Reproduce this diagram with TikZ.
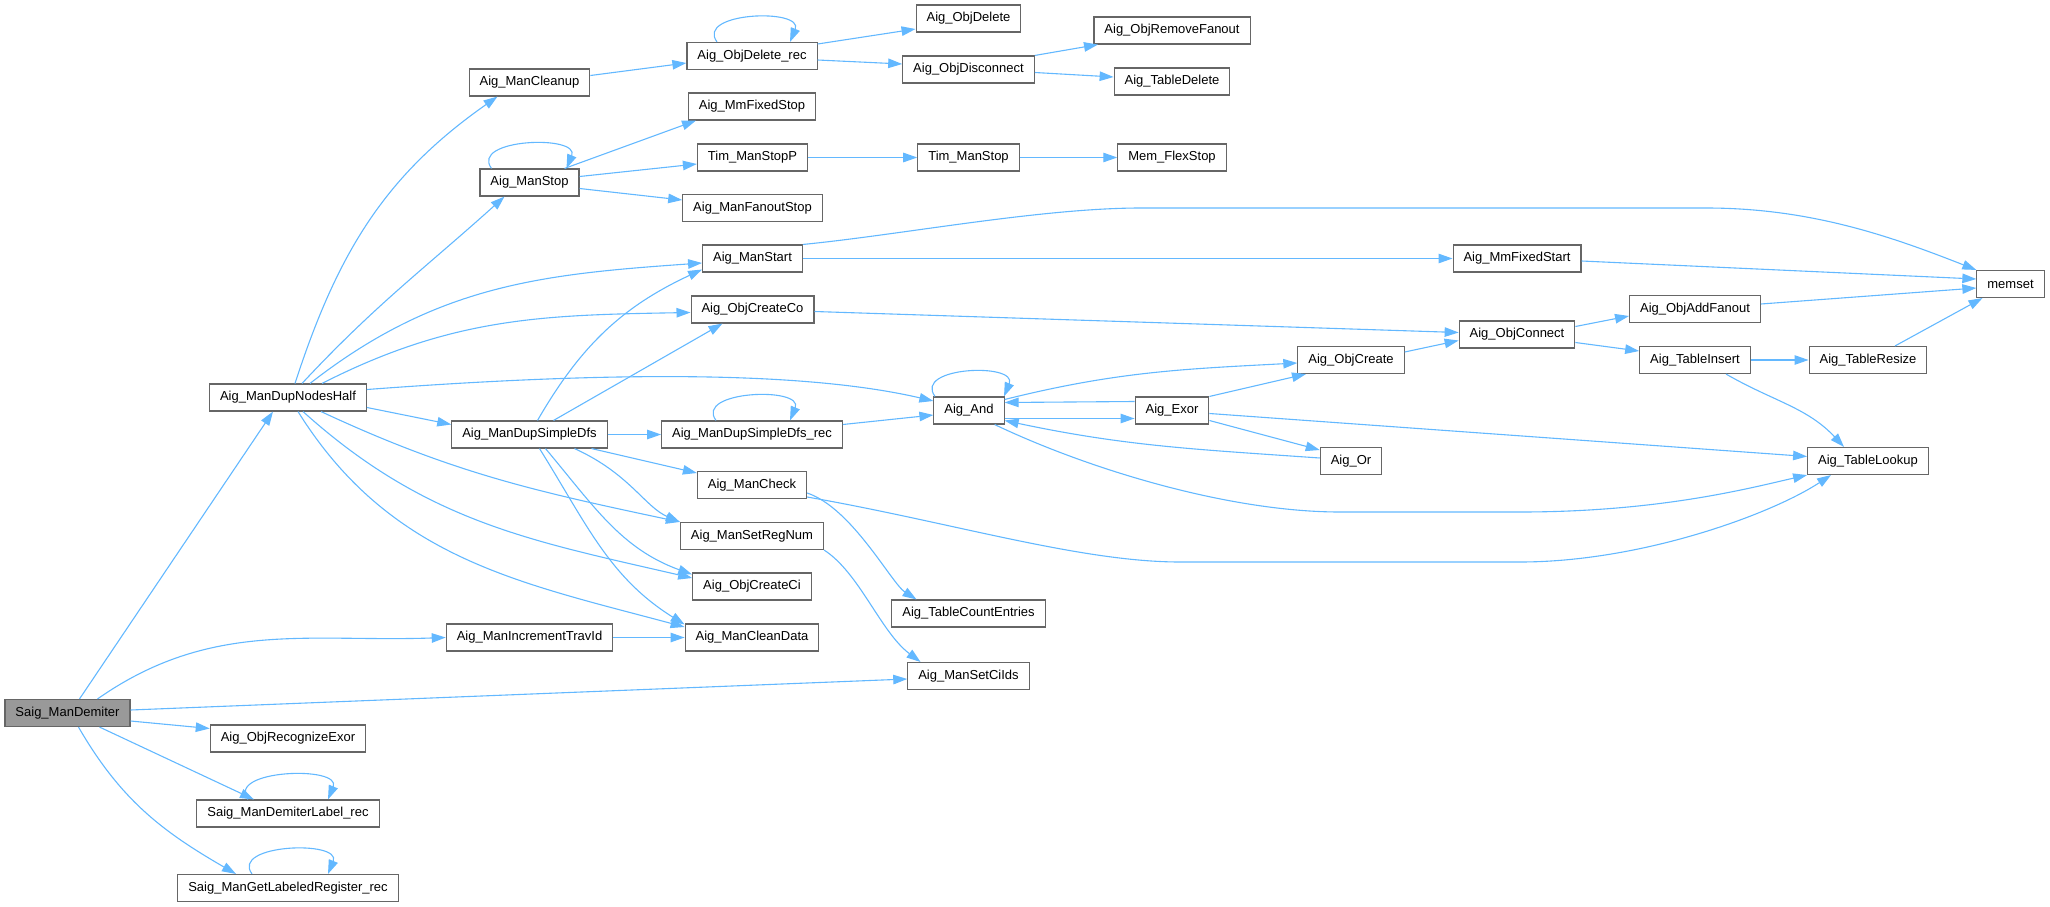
\documentclass[tikz,border=0pt]{standalone}
\usepackage{fontspec}
\setmainfont{Liberation Sans}
\usetikzlibrary{arrows.meta}
\definecolor{edgeblue}{HTML}{63B8FF}
\definecolor{nodeborder}{HTML}{666666}
\definecolor{rootfill}{HTML}{999999}
\begin{document}
\begin{tikzpicture}[x=1pt,y=1pt,
  fn/.style={draw=nodeborder, line width=1.1pt, fill=white, minimum height=27pt,
    inner xsep=10.5pt, inner ysep=0pt, font=\fontsize{13}{15}\selectfont},
  root/.style={fn, fill=rootfill},
  e/.style={draw=edgeblue, line width=1.1pt, -{Triangle[length=14pt,width=9.5pt]}}]
\useasboundingbox (0,0) rectangle (2050,-907);
% nodes
\node[root] (SMD) at (67.5,-713) {Saig\_ManDemiter};
\node[fn] (DNH) at (288,-397.5) {Aig\_ManDupNodesHalf};
\node[fn] (ORE) at (288,-738.5) {Aig\_ObjRecognizeExor};
\node[fn] (DLR) at (288,-813.5) {Saig\_ManDemiterLabel\_rec};
\node[fn] (GLR) at (288,-888) {Saig\_ManGetLabeledRegister\_rec};
\node[fn] (CLN) at (529.5,-82.5) {Aig\_ManCleanup};
\node[fn] (MST) at (529.5,-182.5) {Aig\_ManStop};
\node[fn] (DSD) at (529.5,-434.5) {Aig\_ManDupSimpleDfs};
\node[fn] (ITI) at (529.5,-637.5) {Aig\_ManIncrementTravId};
\node[fn] (ODR) at (752,-56) {Aig\_ObjDelete\_rec};
\node[fn] (MFS) at (752,-106.5) {Aig\_MmFixedStop};
\node[fn] (TSP) at (752.5,-157.5) {Tim\_ManStopP};
\node[fn] (MFO) at (752.5,-208) {Aig\_ManFanoutStop};
\node[fn] (MSA) at (752.5,-258.5) {Aig\_ManStart};
\node[fn] (OCC) at (752.5,-309.5) {Aig\_ObjCreateCo};
\node[fn] (DSR) at (752,-434.5) {Aig\_ManDupSimpleDfs\_rec};
\node[fn] (MCK) at (752,-485) {Aig\_ManCheck};
\node[fn] (SRN) at (752,-536) {Aig\_ManSetRegNum};
\node[fn] (OCI) at (752,-586.5) {Aig\_ObjCreateCi};
\node[fn] (MCD) at (752,-637.5) {Aig\_ManCleanData};
\node[fn] (ODL) at (968.5,-18.5) {Aig\_ObjDelete};
\node[fn] (ODC) at (968.5,-69.5) {Aig\_ObjDisconnect};
\node[fn] (TMS) at (968.5,-157.5) {Tim\_ManStop};
\node[fn] (AND) at (969,-410.5) {Aig\_And};
\node[fn] (TCE) at (968.5,-613.5) {Aig\_TableCountEntries};
\node[fn] (SCI) at (968.5,-676) {Aig\_ManSetCiIds};
\node[fn] (ORF) at (1172,-30.5) {Aig\_ObjRemoveFanout};
\node[fn] (TDL) at (1172,-81.5) {Aig\_TableDelete};
\node[fn] (MFL) at (1172,-157.5) {Mem\_FlexStop};
\node[fn] (EXR) at (1172,-410.5) {Aig\_Exor};
\node[fn] (OCR) at (1351,-360) {Aig\_ObjCreate};
\node[fn] (OR) at (1351,-461) {Aig\_Or};
\node[fn] (MFT) at (1517,-258.5) {Aig\_MmFixedStart};
\node[fn] (OCN) at (1517,-334.5) {Aig\_ObjConnect};
\node[fn] (OAF) at (1695,-309) {Aig\_ObjAddFanout};
\node[fn] (TIN) at (1695,-360) {Aig\_TableInsert};
\node[fn] (TRS) at (1868,-360) {Aig\_TableResize};
\node[fn] (TLK) at (1868,-461) {Aig\_TableLookup};
\node[fn] (MEM) at (2010.5,-284) {memset};
% edges from Saig_ManDemiter
\draw[e] ([xshift=12pt]SMD.north) -- ([xshift=-15pt]DNH.south);
\draw[e] ([xshift=30pt]SMD.north) to[out=35,in=182] (ITI.west);
\draw[e] ([yshift=3pt]SMD.east) -- ([yshift=-3pt]SCI.west);
\draw[e] ([yshift=-8pt]SMD.east) -- ([yshift=10pt]ORE.west);
\draw[e] ([xshift=32pt]SMD.south) -- ([xshift=-34pt]DLR.north);
\draw[e] ([xshift=11pt]SMD.south) to[out=-60,in=150] ([xshift=-52pt]GLR.north);
\draw[e] ([xshift=-40pt]DLR.north) .. controls +(-22,30) and +(14,34) .. ([xshift=40pt]DLR.north);
\draw[e] ([xshift=-36pt]GLR.north) .. controls +(-22,30) and +(14,34) .. ([xshift=40pt]GLR.north);
% edges from Aig_ManDupNodesHalf
\draw[e] ([xshift=7pt]DNH.north) to[out=72,in=215] ([xshift=-32pt]CLN.south);
\draw[e] ([xshift=14pt]DNH.north) to[out=47,in=222] ([xshift=-25pt]MST.south);
\draw[e] ([xshift=22pt]DNH.north) to[out=38,in=184] ([yshift=-4.5pt]MSA.west);
\draw[e] ([xshift=34pt]DNH.north) to[out=27,in=181] ([yshift=-3pt]OCC.west);
\draw[e] ([yshift=8pt]DNH.east) .. controls (600,-372) and (800,-370) .. ([yshift=9.5pt]AND.west);
\draw[e] ([yshift=-10pt]DNH.east) -- ([yshift=10pt]DSD.west);
\draw[e] ([xshift=33pt]DNH.south) to[out=-25,in=168] (SRN.north west);
\draw[e] ([xshift=15pt]DNH.south) to[out=-42,in=167] ([yshift=8.5pt]OCI.west);
\draw[e] ([xshift=10pt]DNH.south) to[out=-58,in=165] ([yshift=10.5pt]MCD.west);
% edges from Aig_ManDupSimpleDfs
\draw[e] ([xshift=8pt]DSD.north) to[out=60,in=205] ([yshift=-11pt]MSA.west);
\draw[e] ([xshift=24pt]DSD.north) -- ([xshift=-30pt]OCC.south);
\draw[e] (DSD) -- (DSR);
\draw[e] ([xshift=62pt]DSD.south) -- ([yshift=12pt]MCK.west);
\draw[e] ([xshift=45pt]DSD.south) .. controls +(55,-25) and +(-35,15) .. (SRN.north west);
\draw[e] ([xshift=16pt]DSD.south) to[out=-50,in=160] ([yshift=12pt]OCI.west);
\draw[e] ([xshift=10pt]DSD.south) to[out=-58,in=148] ([yshift=13pt]MCD.west);
% Aig_ManStop
\draw[e] ([xshift=-38pt]MST.north) .. controls +(-22,30) and +(14,34) .. ([xshift=37pt]MST.north);
\draw[e] ([xshift=35pt]MST.north) -- ([xshift=-56pt]MFS.south);
\draw[e] ([yshift=6pt]MST.east) -- ([yshift=-6.5pt]TSP.west);
\draw[e] ([yshift=-6pt]MST.east) -- ([yshift=8pt]MFO.west);
\draw[e] (TSP) -- (TMS);
\draw[e] (TMS) -- (MFL);
% Aig_ManCleanup
\draw[e] ([yshift=7pt]CLN.east) -- ([yshift=-7pt]ODR.west);
\draw[e] ([xshift=-35pt]ODR.north) .. controls +(-22,30) and +(14,34) .. ([xshift=38pt]ODR.north);
\draw[e] ([yshift=12pt]ODR.east) -- ([yshift=-10.5pt]ODL.west);
\draw[e] ([yshift=-4pt]ODR.east) -- ([yshift=5.5pt]ODC.west);
\draw[e] (ODC.north east) -- ([xshift=-74pt]ORF.south);
\draw[e] ([yshift=-3pt]ODC.east) -- ([yshift=4.5pt]TDL.west);
% Aig_ManStart
\draw[e] (MSA.north east) .. controls (900,-235) and (1040,-208) .. (1141,-208)
   -- (1706,-208) .. controls (1810,-208) and (1890,-236) .. (MEM.north west);
\draw[e] (MSA) -- (MFT);
\draw[e] ([yshift=-2.5pt]MFT.east) -- ([yshift=5pt]MEM.west);
\draw[e] ([yshift=5pt]OAF.east) -- ([yshift=-4pt]MEM.west);
\draw[e] ([xshift=27pt]TRS.north) -- ([xshift=-28pt]MEM.south);
% connect
\draw[e] ([yshift=-2pt]OCC.east) -- ([yshift=2pt]OCN.west);
\draw[e] ([yshift=8pt]OCN.east) -- ([yshift=-7pt]OAF.west);
\draw[e] ([yshift=-8pt]OCN.east) -- ([yshift=9pt]TIN.west);
\draw[e] (TIN) -- (TRS);
\draw[e] ([xshift=31pt]TIN.south) to[out=-30,in=133] ([xshift=-24pt]TLK.north);
\draw[e] ([yshift=8pt]OCR.east) -- ([yshift=-6pt]OCN.west);
% Aig_And and friends
\draw[e] ([yshift=10pt]DSR.east) -- ([yshift=-4.5pt]AND.west);
\draw[e] ([xshift=-36pt]DSR.north) .. controls +(-22,30) and +(14,34) .. ([xshift=38pt]DSR.north);
\draw[e] ([xshift=-34pt]AND.north) .. controls +(-22,30) and +(14,34) .. ([xshift=35pt]AND.north);
\draw[e] ([yshift=11pt]AND.east) to[out=14,in=183] ([yshift=-3pt]OCR.west);
\draw[e] ([yshift=-8pt]AND.east) -- ([yshift=-8pt]EXR.west);
\draw[e] ([yshift=9pt]EXR.west) -- ([yshift=8pt]AND.east);
\draw[e] ([yshift=3pt]OR.west) to[out=176,in=-12] ([yshift=-10pt]AND.east);
\draw[e] ([xshift=-10pt]AND.south east) .. controls (1090,-470) and (1230,-512) .. (1340,-512)
   -- (1520,-512) .. controls (1660,-512) and (1750,-488) .. (TLK.south west);
\draw[e] (EXR.north east) -- ([xshift=-45pt]OCR.south);
\draw[e] ([yshift=-3pt]EXR.east) -- ([yshift=4.5pt]TLK.west);
\draw[e] ([yshift=-10pt]EXR.east) -- ([yshift=11pt]OR.west);
% Aig_ManCheck
\draw[e] ([yshift=-8pt]MCK.east) .. controls +(45,-15) and +(-25,16) .. ([xshift=-52pt]TCE.north);
\draw[e] ([yshift=-12pt]MCK.east) .. controls (950,-522) and (1080,-562) .. (1180,-562)
   -- (1520,-562) .. controls (1640,-562) and (1770,-515) .. ([xshift=-37pt]TLK.south);
% Aig_ManSetRegNum
\draw[e] (SRN.south east) .. controls +(35.5,-23) and +(-40,30) .. ([xshift=-48pt]SCI.north);
% Aig_ManIncrementTravId
\draw[e] (ITI) -- (MCD);
\end{tikzpicture}
\end{document}
